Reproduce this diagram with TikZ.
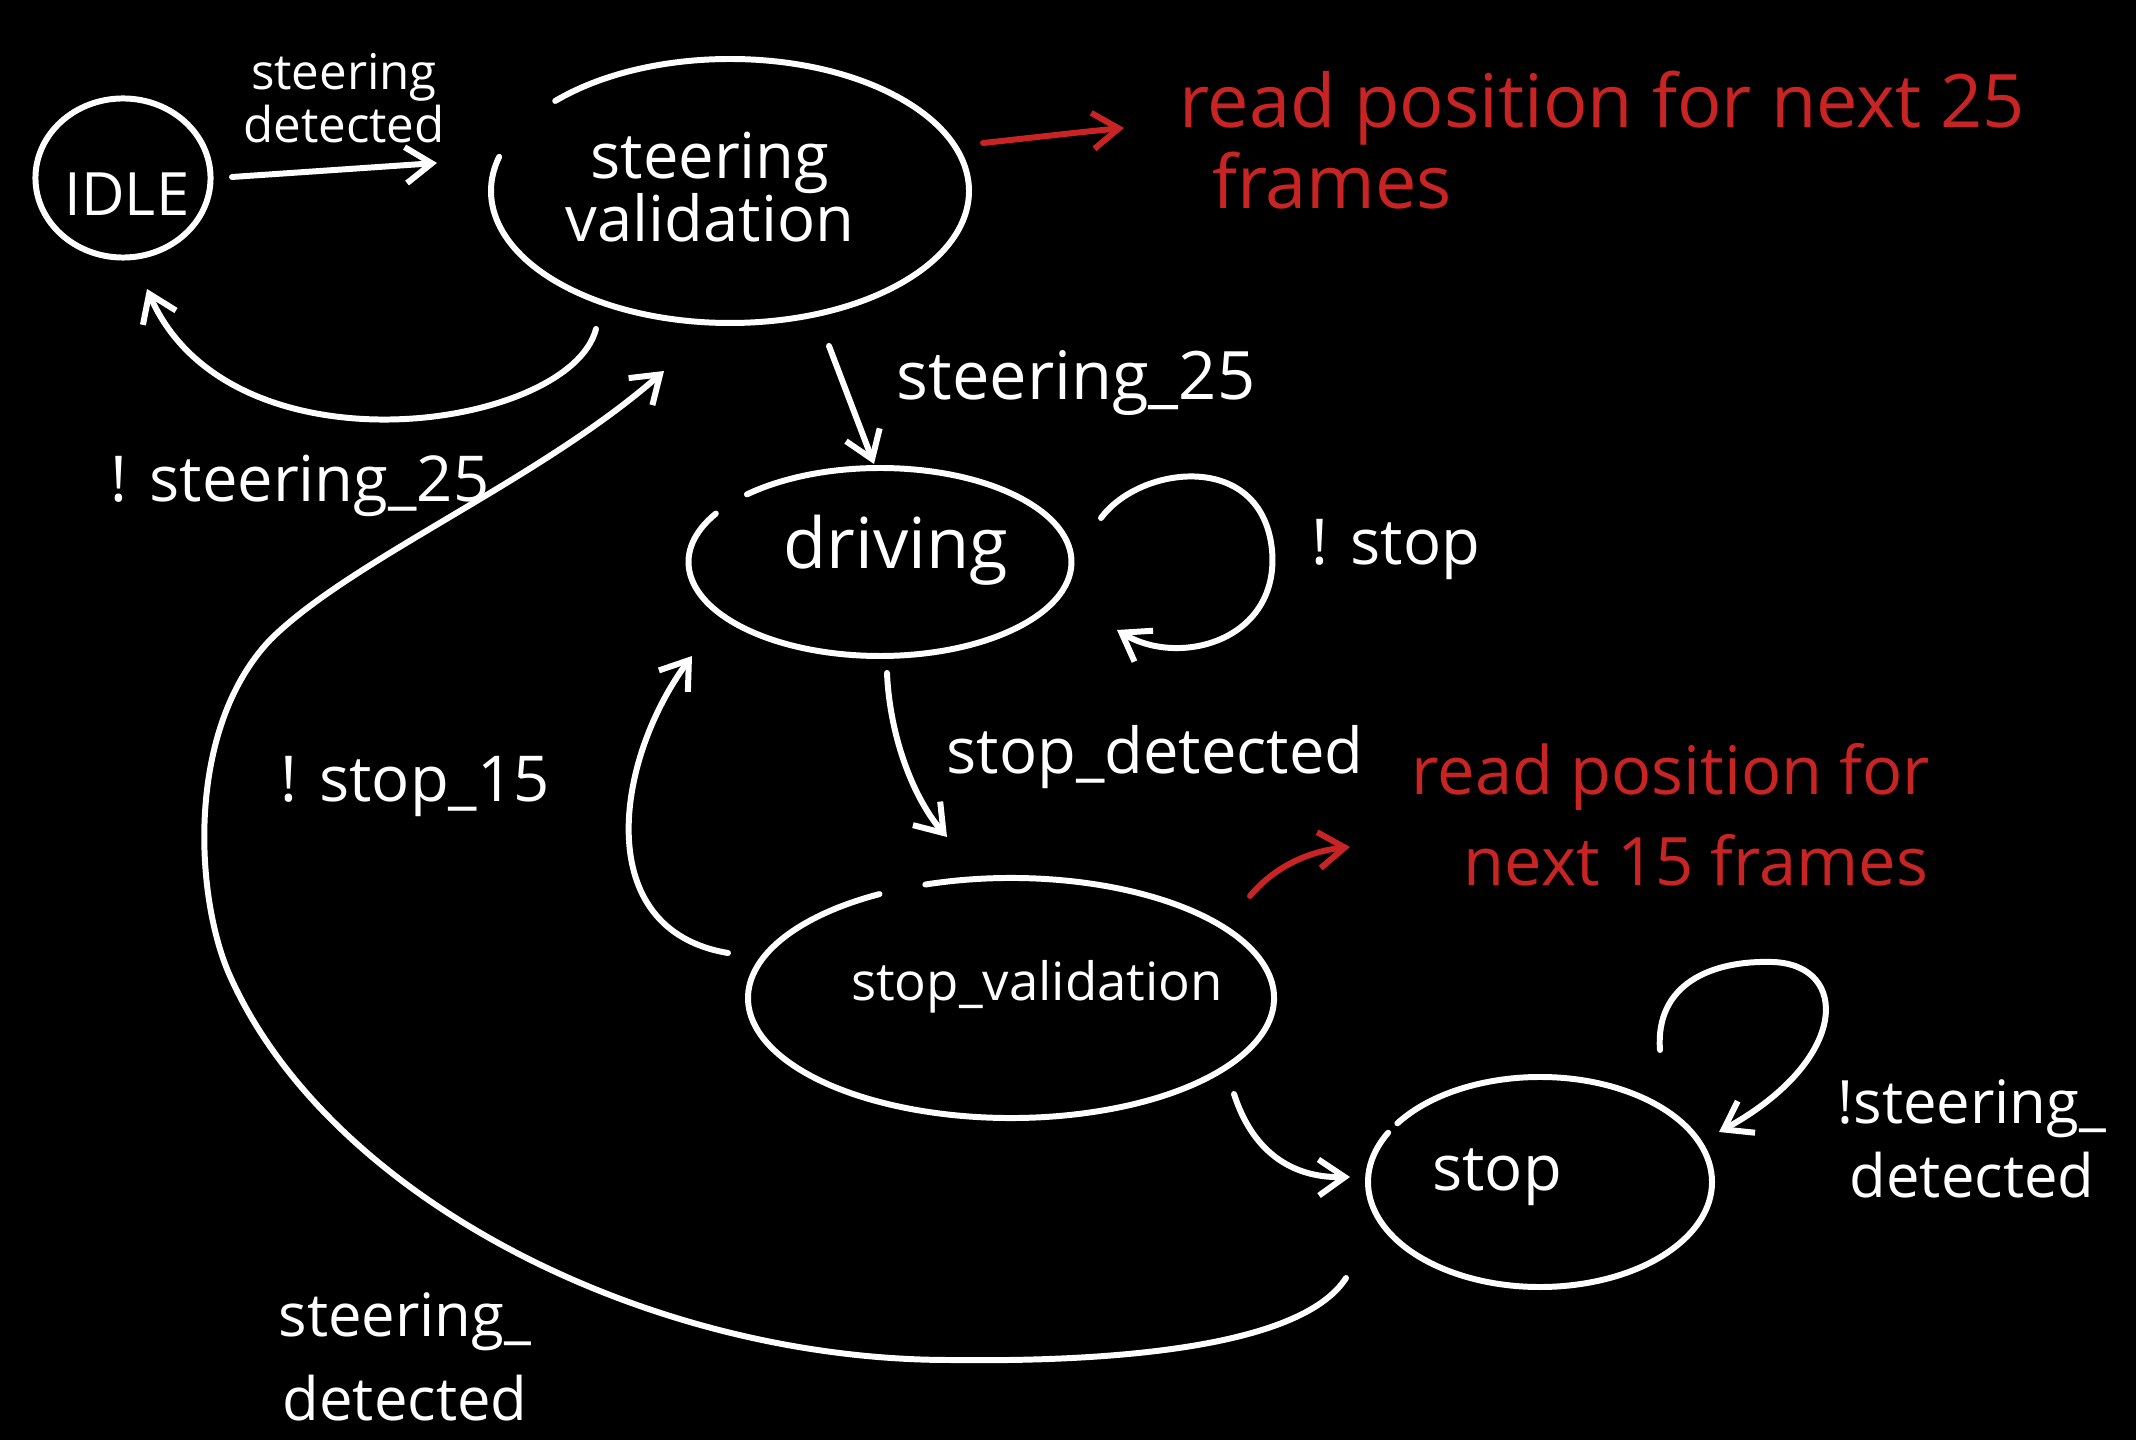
\documentclass[tikz,border=0pt]{standalone}
\usepackage{fontspec}
\setmainfont{Open Sans}
\usetikzlibrary{shapes.geometric,arrows.meta}
\definecolor{notered}{RGB}{200,36,36}
\begin{document}
\begin{tikzpicture}[x=0.01cm,y=-0.01cm,line width=1.7pt,line cap=round,line join=round,
  state/.style={ellipse, inner sep=0pt},
  outline/.style={draw=white},
  stext/.style={text=white, inner sep=0pt, align=center, font=\fontsize{18}{18}\selectfont},
  elabel/.style={text=white, inner sep=0pt, align=center, font=\fontsize{18}{20}\selectfont},
  notetext/.style={text=notered, inner sep=0pt},
  arr/.style={-{Straight Barb[length=2.6mm,width=3.6mm]}},
  trans/.style={draw=white, arr},
  notearrow/.style={draw=notered, arr}]
\fill[black] (0,0) rectangle (2136,1440);
\useasboundingbox (0,0) rectangle (2136,1440);

% states (shape for naming, outline drawn as hand-drawn arcs with gaps)
\node[state, draw=white, minimum width=1.75cm, minimum height=1.59cm] (idle) at (123,178) {};
\node[state, minimum width=4.78cm, minimum height=2.64cm] (sv) at (730,191) {};
\node[state, minimum width=3.83cm, minimum height=1.88cm] (drv) at (880,562) {};
\node[state, minimum width=5.26cm, minimum height=2.40cm] (stv) at (1011,998) {};
\node[state, minimum width=3.44cm, minimum height=2.10cm] (stp) at (1540,1182) {};

\draw[outline] ([shift={(223:239 and 132)}]sv.center) arc[start angle=223, end angle=555, x radius=239, y radius=132];
\draw[outline] ([shift={(226:191.5 and 94)}]drv.center) arc[start angle=226, end angle=571, x radius=191.5, y radius=94];
\draw[outline] ([shift={(251:263 and 120)}]stv.center) arc[start angle=251, end angle=600, x radius=263, y radius=120];
\draw[outline] ([shift={(214:172 and 105)}]stp.center) arc[start angle=214, end angle=568, x radius=172, y radius=105];

% state texts
\node[stext, anchor=base, font=\fontsize{17}{17}\selectfont] (idlet) at (127,216) {IDLE};
\node[stext] (svt) at (710,187) {steering\\validation};
\node[stext, anchor=base, font=\fontsize{20}{20}\selectfont] (drvt) at (896,569) {driving};
\node[stext, anchor=base, font=\fontsize{15}{15}\selectfont] (stvt) at (1037,1000) {stop\_validation};
\node[stext, anchor=base] (stpt) at (1497,1190) {stop};

% edge labels
\node[elabel, font=\fontsize{14}{13}\selectfont] (l1) at (344,98) {steering\\detected};
\node[elabel, anchor=base] (l2) at (300,502) {! steering\_25};
\node[elabel, anchor=base, font=\fontsize{19}{20}\selectfont] (l3) at (1076,400) {steering\_25};
\node[elabel, anchor=base] (l4) at (1396,565) {! stop};
\node[elabel, anchor=base] (l5) at (1155,774) {stop\_detected};
\node[elabel, anchor=base] (l6) at (415,802) {! stop\_15};
\node[elabel, font=\fontsize{17}{21}\selectfont] (l7) at (1972,1139) {!steering\_\\detected};
\node[elabel, font=\fontsize{17}{24}\selectfont] (l8) at (405,1357) {steering\_\\detected};

% notes
\node[notetext, font=\fontsize{21}{23}\selectfont, align=left, anchor=west] (n1) at (1176,140) {read position for next 25\\\hspace*{0.33cm}frames};
\node[notetext, font=\fontsize{19}{26}\selectfont, align=center] (n2) at (1671,815) {read position for\\\hspace*{0.5cm}next 15 frames};
\coordinate (n1tip) at (1124,128);
\coordinate (n2tip) at (1350,847);

% transitions
\draw[trans] ([shift={(109,-1)}]idle.center) -- ([shift={(-293,-28)}]sv.center);
\draw[trans] ([shift={(-134,138)}]sv.center) .. controls (570,430) and (230,480) .. ([shift={(24,111)}]idle.center);
\draw[trans] ([shift={(99,155)}]sv.center) -- ([shift={(-6,-98)}]drv.center);
\draw[trans] ([shift={(221,-44)}]drv.center) .. controls (1140,465) and (1262,450) .. (1272,550)
   .. controls (1280,640) and (1180,668) .. ([shift={(237,68)}]drv.center);
\draw[trans] ([shift={(7,111)}]drv.center) .. controls (890,740) and (915,800) .. ([shift={(-64,-161)}]stv.center);
\draw[trans] ([shift={(223,96)}]stv.center) .. controls (1252,1150) and (1290,1178) .. ([shift={(-190,-5)}]stp.center);
\draw[trans] ([shift={(120,-132)}]stp.center) .. controls (1655,985) and (1710,960) .. (1773,962)
   .. controls (1850,965) and (1850,1060) .. ([shift={(179,-50)}]stp.center);
\draw[trans] ([shift={(-194,96)}]stp.center) .. controls (1300,1350) and (1100,1362) .. (950,1360)
   .. controls (650,1360) and (330,1200) .. (230,976)
   .. controls (195,898) and (185,730) .. (270,640)
   .. controls (350,560) and (540,480) .. ([shift={(-66,180)}]sv.center);
\draw[trans] ([shift={(-283,-45)}]stv.center) .. controls (590,930) and (615,760) .. ([shift={(-188,94)}]drv.center);

% note arrows
\draw[notearrow] ([shift={(253,-48)}]sv.center) .. controls (1030,138) and (1080,132) .. (n1tip);
\draw[notearrow] ([shift={(239,-102)}]stv.center) .. controls (1280,860) and (1320,850) .. (n2tip);
\end{tikzpicture}
\end{document}
